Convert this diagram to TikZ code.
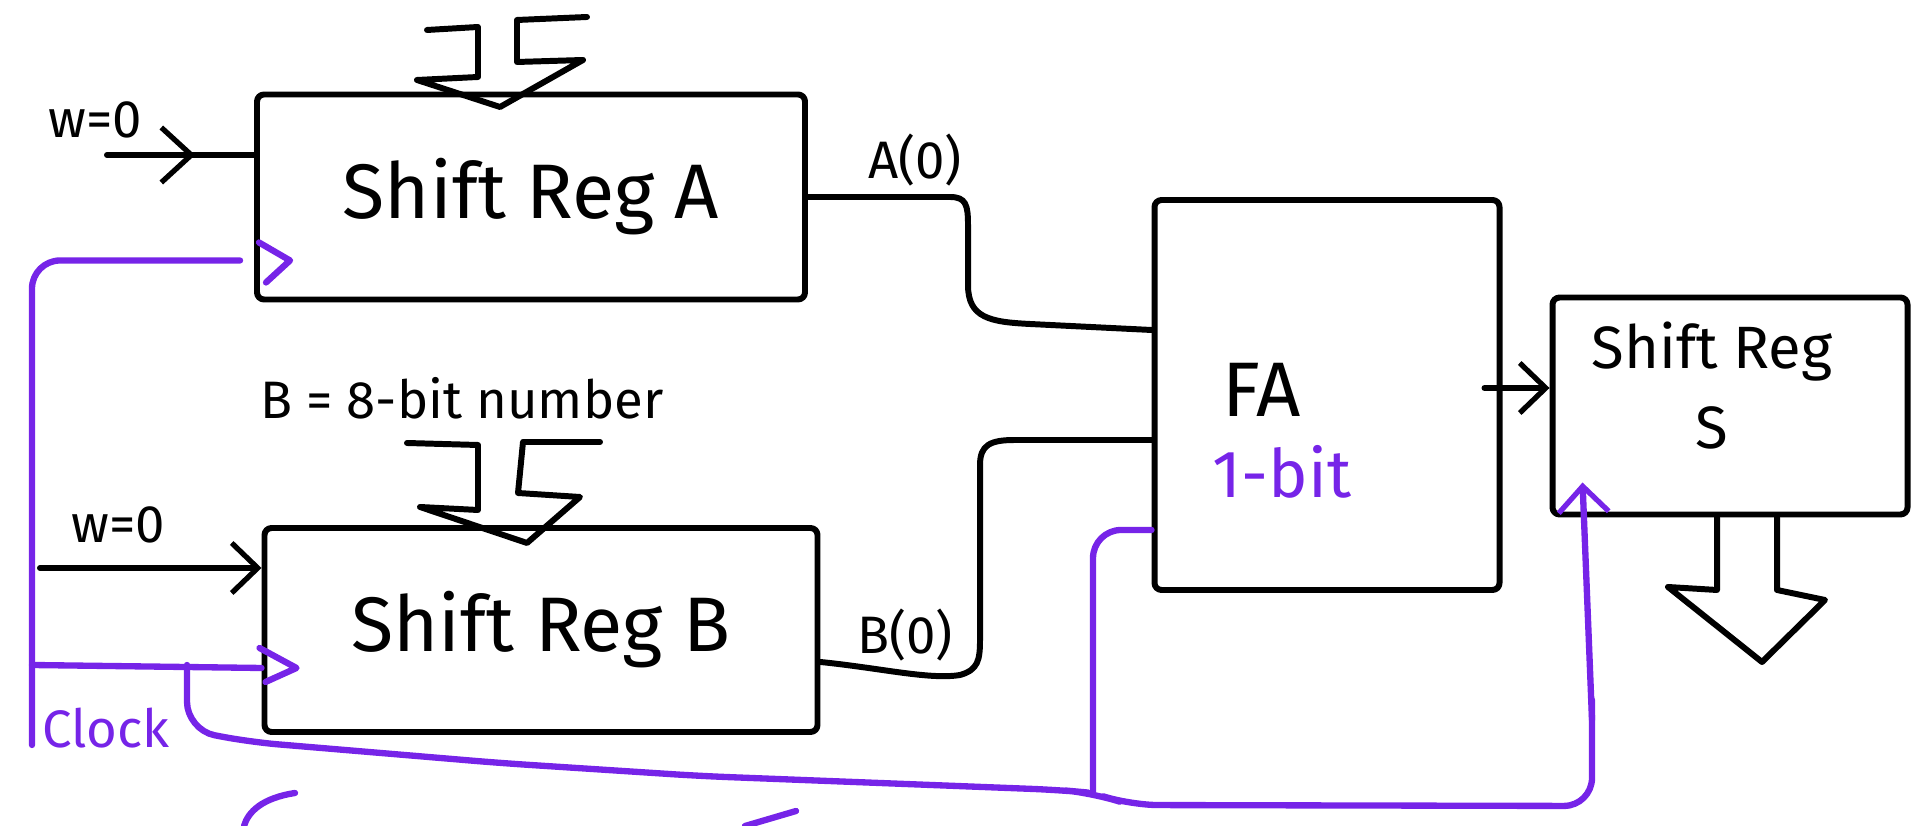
\documentclass[tikz,border=0pt]{standalone}
\usepackage{fontspec}
\setmainfont{Fira Sans}
\usepackage{tikz}
\usetikzlibrary{arrows.meta}
\usetikzlibrary{calc}
\usetikzlibrary{decorations.markings}
\definecolor{clockviolet}{RGB}{118,36,232}

\begin{document}
\begin{tikzpicture}[x=0.1mm, y=-0.1mm, line width=1.7pt, line join=round, line cap=round,
        box_style/.style={draw=black, line width=1.7pt, rounded corners=2pt, inner sep=0pt},
        text_style/.style={font=\fontsize{22}{28}\selectfont},
        small_text_style/.style={font=\fontsize{15}{18}\selectfont},
        clock_text_style/.style={font=\fontsize{15}{18}\selectfont, text=clockviolet},
        wire_style/.style={draw=black, line width=1.7pt, rounded corners=10pt},
        clock_style/.style={draw=clockviolet, line width=1.8pt, rounded corners=8pt},
        arrow_style/.style={-{Straight Barb[length=2.6mm, width=5mm, line width=1.5pt]}},
        mid_arrow_style/.style={postaction={decorate}, decoration={markings,
            mark=at position 0.6 with {\arrow{Straight Barb[length=3mm, width=5.5mm, line width=1.5pt]}}}}]

        \useasboundingbox (0,0) rectangle (1927,826);

        \node [box_style, minimum width=54.8mm, minimum height=20.5mm, text_style](regA) at (531,197) {Shift Reg A};
        \node [box_style, minimum width=55.3mm, minimum height=20.4mm, text_style](regB) at (541,630) {Shift Reg B};
        \node [box_style, minimum width=34.5mm, minimum height=39mm](fa) at (1327,395) {};
        \node [box_style, minimum width=35.5mm, minimum height=21.7mm](regS) at (1730,406) {};

        \node [font=\fontsize{17}{20}\selectfont](regSName) at (1712,352) {Shift Reg};
        \node [font=\fontsize{17}{20}\selectfont](regSLetter) at (1712,428) {S};
        \node [text_style](faName) at (1262,390) {FA};
        \node [clock_text_style, font=\fontsize{19}{22}\selectfont](faBits) at (1282,472) {1-bit};
        \node [small_text_style](numB) at (462,398) {B = 8-bit number};
        \node [small_text_style](wA) at (95,120) {w=0};
        \node [small_text_style](wB) at (118,525) {w=0};
        \node [small_text_style](outA) at (915,160) {A(0)};
        \node [small_text_style](outB) at (905,635) {B(0)};
        \node [clock_text_style](clk) at (106,728) {Clock};

        \coordinate (winA) at (107,155);
        \coordinate (winB) at (40,568);
        \coordinate (clkIn) at (32,745);
        \coordinate (clkA) at ($(regA.south west)+(0,-42)$);
        \coordinate (clkB) at ($(regB.south west)+(0,-67)$);
        \coordinate (clkFA) at ($(fa.south west)+(0,-63)$);
        \coordinate (clkS) at ($(regS.south west)+(33,-35)$);

        \draw [wire_style, mid_arrow_style] (winA) -- (winA -| regA.west);
        \draw [wire_style, arrow_style] (winB) -- (winB -| regB.west);
        \draw [wire_style, rounded corners=0pt] (regA.east) -- (950,197) .. controls (966,197) and (968,205) .. (968,225)
            -- (968,285) .. controls (968,318) and (990,322) .. (1030,324) -- ($(fa.west)+(0,-65)$);
        \draw [wire_style, rounded corners=0pt] ($(regB.east)+(0,32)$) .. controls (880,668) and (930,680) .. (960,675)
            .. controls (978,670) and (980,660) .. (980,640) -- (980,465) .. controls (980,445) and (990,440) .. (1015,440)
            -- ($(fa.west)+(0,45)$);
        \draw [wire_style, arrow_style] ($(fa.east)+(-18,-7)$) -- ($(regS.west)+(0,-18)$);

        \draw [wire_style, rounded corners=0pt] (427,30) -- (478,27) -- (478,77) -- (417,80) -- (500,107) -- (583,60) -- (517,62) -- (517,20) -- (587,17);
        \draw [wire_style, rounded corners=0pt] (407,443) -- (478,445) -- (478,510) -- (420,507) -- (527,543) -- (580,497) -- (518,493) -- (523,442) -- (600,442);
        \draw [wire_style, rounded corners=0pt] ($(regS.south)+(-13,0)$) -- (1717,590) -- (1668,587) -- (1762,662) -- (1825,600) -- (1777,590) -- ($(regS.south)+(47,0)$);

        \draw [clock_style] (clkIn) |- ($(clkA)+(-14,0)$);
        \draw [clock_style, rounded corners=0pt] ($(clkA)+(5,-18)$) -- ($(clkA)+(36,0)$) -- ($(clkA)+(12,22)$);
        \draw [clock_style] (32,665) -- (clkB);
        \draw [clock_style, rounded corners=0pt] ($(clkB)+(-2,-20)$) -- ($(clkB)+(35,0)$) -- ($(clkB)+(4,14)$);
        \draw [clock_style] (187,665) -- (187,730) -- (250,742) -- (500,763) -- (700,776) -- (1060,790) -- (1093,793)
            -- (1130,805) -- (1592,806) -- (1592,700);
        \draw [clock_style, arrow_style] (1592,720) -- (clkS);
        \draw [clock_style] (1093,793) |- (clkFA);

        \draw [clock_style] (295,793) .. controls (262,798) and (248,812) .. (244,826);
        \draw [clock_style] (745,826) -- (796,811);
\end{tikzpicture}
\end{document}
